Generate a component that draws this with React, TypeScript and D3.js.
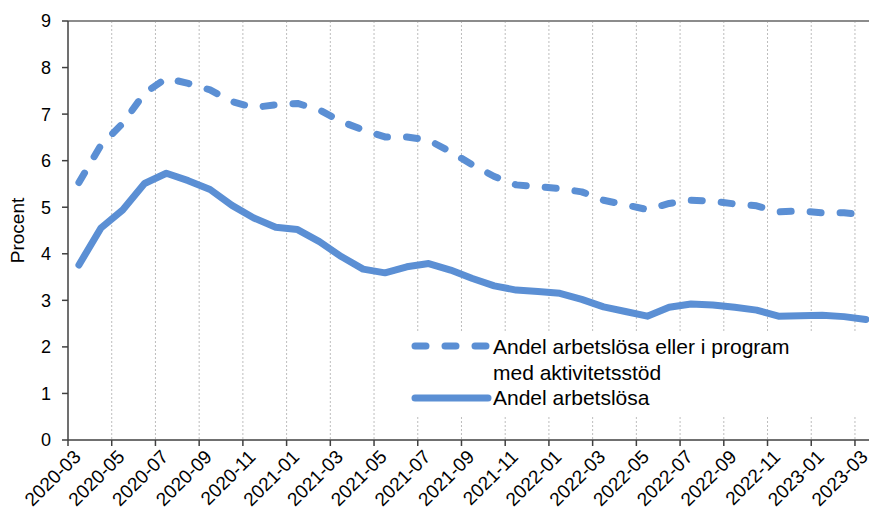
import React from "react";
import * as d3 from "d3";

// months on the category axis
const months = [
  "2020-03", "2020-04", "2020-05", "2020-06", "2020-07", "2020-08", "2020-09", "2020-10",
  "2020-11", "2020-12", "2021-01", "2021-02", "2021-03", "2021-04", "2021-05", "2021-06",
  "2021-07", "2021-08", "2021-09", "2021-10", "2021-11", "2021-12", "2022-01", "2022-02",
  "2022-03", "2022-04", "2022-05", "2022-06", "2022-07", "2022-08", "2022-09", "2022-10",
  "2022-11", "2022-12", "2023-01", "2023-02", "2023-03",
];

// Andel arbetslösa eller i program med aktivitetsstöd
const withProgram = [
  5.53, 6.33, 6.8, 7.45, 7.77, 7.66, 7.52, 7.27, 7.14, 7.2, 7.23, 7.09, 6.84, 6.66, 6.51, 6.51,
  6.44, 6.19, 5.91, 5.66, 5.48, 5.44, 5.4, 5.33, 5.15, 5.05, 4.95, 5.08, 5.15, 5.13, 5.07, 5.03,
  4.9, 4.92, 4.88, 4.88, 4.84,
];

// Andel arbetslösa
const unemployed = [
  3.76, 4.55, 4.94, 5.51, 5.73, 5.57, 5.38, 5.04, 4.77, 4.57, 4.52, 4.26, 3.94, 3.67, 3.59, 3.72,
  3.79, 3.65, 3.47, 3.31, 3.22, 3.19, 3.15, 3.02, 2.86, 2.76, 2.66, 2.85, 2.92, 2.9, 2.85, 2.79,
  2.66, 2.67, 2.68, 2.65, 2.59,
];

const yTicks = [0, 1, 2, 3, 4, 5, 6, 7, 8, 9];
const legendLabels = ["Andel arbetslösa eller i program", "med aktivitetsstöd", "Andel arbetslösa"];

const W = 869;
const H = 522;
const left = 68;
const top = 21;
const bottom = 440;
const step = 21.86;
const blue = "#5b8fd4";
const font = "'Liberation Sans', Arial, sans-serif";

export default function App() {
  const x = d3
    .scaleBand<string>()
    .domain(months)
    .range([left, left + months.length * step])
    .padding(0);
  const y = d3.scaleLinear().domain([0, 9]).range([bottom, top]);
  const cx = (m: string) => (x(m) as number) + x.bandwidth() / 2;

  const line = d3
    .line<number>()
    .x((_, i) => cx(months[i]))
    .y((d) => y(d))
    .curve(d3.curveLinear);

  const tickMonths = months.filter((_, i) => i % 2 === 0);

  return (
    <svg
      width={W}
      height={H}
      style={{ position: "absolute", left: 0, top: 0, background: "#fff" }}
      fontFamily={font}
    >
      <rect x={0} y={0} width={W} height={H} fill="#fff" />

      {/* vertical dotted gridlines */}
      {tickMonths.slice(1).map((m) => (
        <line
          key={"g" + m}
          x1={x(m)}
          x2={x(m)}
          y1={top}
          y2={bottom}
          stroke="#bdbdbd"
          strokeWidth={1}
          strokeDasharray="2,2"
        />
      ))}

      {/* top border */}
      <line x1={left} x2={W} y1={top} y2={top} stroke="#8c8c8c" strokeWidth={2} />

      {/* legend background */}
      <rect x={405} y={332} width={W - 405} height={84} fill="#fff" />

      {/* series */}
      <path
        d={line(withProgram) || ""}
        fill="none"
        stroke={blue}
        strokeWidth={7}
        strokeDasharray="11,19"
        strokeLinecap="round"
        strokeLinejoin="round"
      />
      <path
        d={line(unemployed) || ""}
        fill="none"
        stroke={blue}
        strokeWidth={7}
        strokeLinecap="round"
        strokeLinejoin="round"
      />

      {/* y axis */}
      <line x1={left} x2={left} y1={top} y2={bottom} stroke="#404040" strokeWidth={1.5} />
      {yTicks.map((t) => (
        <g key={"y" + t}>
          <line x1={left - 6} x2={left} y1={y(t)} y2={y(t)} stroke="#404040" strokeWidth={1.5} />
          <text x={51} y={y(t)} dy="0.36em" textAnchor="end" fontSize={18} fill="#000">
            {t}
          </text>
        </g>
      ))}
      <text
        transform={`translate(24,${(top + bottom) / 2}) rotate(-90)`}
        textAnchor="middle"
        fontSize={19}
        fill="#000"
      >
        Procent
      </text>

      {/* x axis */}
      <line x1={left} x2={W} y1={bottom} y2={bottom} stroke="#404040" strokeWidth={1.5} />
      {tickMonths.map((m) => (
        <g key={"x" + m}>
          <line x1={x(m)} x2={x(m)} y1={bottom} y2={bottom + 6} stroke="#404040" strokeWidth={1.5} />
          <text
            transform={`translate(${cx(m) + 3},${bottom + 18}) rotate(-45)`}
            textAnchor="end"
            fontSize={19}
            fill="#000"
          >
            {m}
          </text>
        </g>
      ))}

      {/* legend */}
      <line
        x1={415}
        x2={488}
        y1={346}
        y2={346}
        stroke={blue}
        strokeWidth={7}
        strokeDasharray="11,19"
        strokeLinecap="round"
      />
      <line x1={415} x2={488} y1={398} y2={398} stroke={blue} strokeWidth={7} strokeLinecap="round" />
      <text x={493} y={354} fontSize={21} fill="#000">
        {legendLabels[0]}
      </text>
      <text x={493} y={380} fontSize={21} fill="#000">
        {legendLabels[1]}
      </text>
      <text x={493} y={405} fontSize={21} fill="#000">
        {legendLabels[2]}
      </text>
    </svg>
  );
}
